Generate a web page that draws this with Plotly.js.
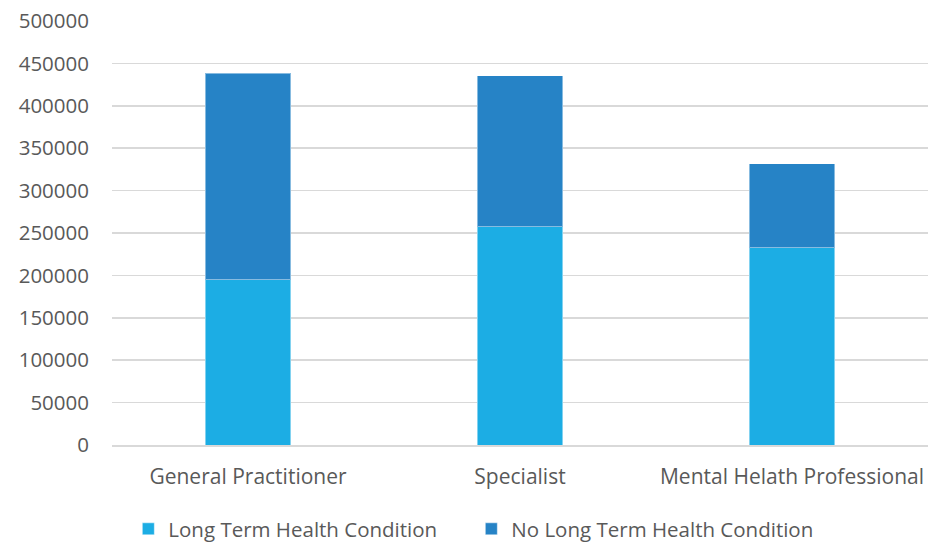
<!DOCTYPE html>
<html>
<head>
<meta charset="utf-8">
<script src="https://cdn.plot.ly/plotly-3.0.1.min.js"></script>
<style>
  html, body { margin: 0; padding: 0; background: #ffffff; }
  #chart { width: 928px; height: 542px; }
</style>
</head>
<body>
<div id="chart"></div>
<script>
// Consultations by provider type, split by long-term health condition status
const categories = ["General Practitioner", "Specialist", "Mental Helath Professional"];
const longTermCondition = [195000, 257500, 232500];
const noLongTermCondition = [243500, 177800, 99100];
const yTickValues = [0, 50000, 100000, 150000, 200000, 250000, 300000, 350000, 400000, 450000, 500000];

const textColor = "#595959";
const fontFamily = "'Open Sans', 'Noto Sans', sans-serif";

const traces = [
  {
    type: "bar",
    name: "Long Term Health Condition",
    x: categories,
    y: longTermCondition,
    marker: { color: "#1CADE4", line: { color: "rgba(255,255,255,0.45)", width: 1 } },
    hoverinfo: "x+y+name"
  },
  {
    type: "bar",
    name: "No Long Term Health Condition",
    x: categories,
    y: noLongTermCondition,
    marker: { color: "#2683C6", line: { color: "rgba(255,255,255,0.45)", width: 1 } },
    hoverinfo: "x+y+name"
  }
];

const layout = {
  width: 928,
  height: 542,
  barmode: "stack",
  bargap: 0.685,
  paper_bgcolor: "#ffffff",
  plot_bgcolor: "#ffffff",
  margin: { l: 112, r: 0, t: 21, b: 96.5, autoexpand: false },
  font: { family: fontFamily, size: 21, color: textColor },
  xaxis: {
    type: "category",
    showgrid: false,
    showline: true,
    linecolor: "#d9d9d9",
    linewidth: 1.5,
    ticks: "",
    ticklabelstandoff: 12,
    tickfont: { family: fontFamily, size: 21, color: textColor },
    zeroline: false,
    automargin: false
  },
  yaxis: {
    range: [0, 500000],
    tickvals: yTickValues,
    ticktext: yTickValues.map(String),
    showgrid: true,
    gridcolor: "#d9d9d9",
    gridwidth: 1.5,
    zeroline: false,
    showline: false,
    ticks: "",
    ticklabelstandoff: 22,
    tickfont: { family: fontFamily, size: 20.5, color: textColor },
    automargin: false
  },
  showlegend: true,
  legend: {
    orientation: "h",
    x: 0.02,
    xanchor: "left",
    yref: "container",
    y: 0.024,
    yanchor: "middle",
    entrywidth: 298,
    font: { family: fontFamily, size: 20.5, color: textColor },
    traceorder: "normal"
  }
};

Plotly.newPlot("chart", traces, layout, { staticPlot: true, displayModeBar: false });
</script>
</body>
</html>
